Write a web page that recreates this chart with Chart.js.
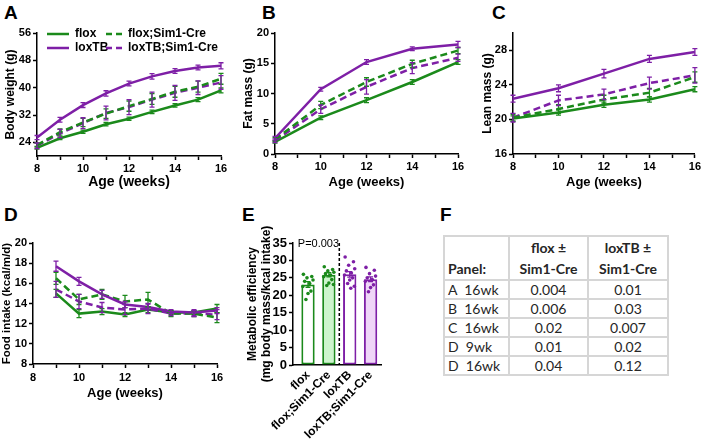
<!DOCTYPE html>
<html lang="en">
<head>
<meta charset="UTF-8">
<title>Body weight, fat, lean mass, food intake</title>
<script src="https://cdn.jsdelivr.net/npm/chart.js"></script>
<style>
  body { margin: 0; background: #fff; width: 703px; height: 443px; position: relative; overflow: hidden;
         font-family: Arial, "Liberation Sans", sans-serif; }
  canvas { position: absolute; }
  .lbl { position: absolute; font: bold 19px Arial, "Liberation Sans", sans-serif; line-height: 19px; color: #000; }
  #tblF { position: absolute; left: 443px; top: 235px; width: 224px; table-layout: fixed; border-collapse: collapse;
          font-family: Lato, "Open Sans", sans-serif; font-size: 14px; color: #262626; }
  #tblF td { border: 2px solid #d6d6d6; height: 17px; padding: 0 3px; text-align: center; white-space: nowrap; }
  #tblF td.l { text-align: left; }
  #tblF tr.hd td { height: 38px; vertical-align: bottom; font-weight: bold; line-height: 21px; }
</style>
</head>
<body>

<div class="lbl" style="left:4px;top:3px">A</div>
<div class="lbl" style="left:262px;top:3px">B</div>
<div class="lbl" style="left:492px;top:3px">C</div>
<div class="lbl" style="left:4px;top:205px">D</div>
<div class="lbl" style="left:242px;top:205px">E</div>
<div class="lbl" style="left:440px;top:205px">F</div>

<canvas id="cA" width="232" height="178" style="left:0px;top:22px"></canvas>
<canvas id="cB" width="235" height="178" style="left:232px;top:22px"></canvas>
<canvas id="cC" width="236" height="178" style="left:467px;top:22px"></canvas>
<canvas id="cD" width="232" height="190" style="left:0px;top:225px"></canvas>
<canvas id="cE" width="150" height="218" style="left:235px;top:225px"></canvas>
<table id="tblF"></table>

<script>
// ---- data ----
const groups = ['flox', 'flox;Sim1-Cre', 'loxTB', 'loxTB;Sim1-Cre'];

// A: body weight (g)
const weeksA = [8, 9, 10, 11, 12, 13, 14, 15, 16];
const bwFlox       = [22.4, 25.2, 27.1, 29.3, 30.9, 32.9, 34.8, 36.5, 39.2];
const bwFloxSim    = [23.2, 27.0, 29.8, 32.4, 34.6, 36.7, 38.8, 40.3, 42.6];
const bwLoxTB      = [25.4, 30.6, 34.9, 38.3, 41.2, 43.3, 44.9, 45.9, 46.4];
const bwLoxTBSim   = [23.0, 26.6, 29.6, 32.6, 34.3, 36.5, 38.5, 40.0, 41.5];
const bwFloxErr     = [0.4, 0.4, 0.5, 0.5, 0.5, 0.5, 0.5, 0.6, 0.7];
const bwFloxSimErr  = [0.6, 0.9, 1.2, 1.4, 1.5, 1.6, 1.6, 1.6, 1.6];
const bwLoxTBErr    = [0.6, 0.7, 0.7, 0.8, 0.7, 0.8, 0.7, 0.7, 0.9];
const bwLoxTBSimErr = [0.8, 1.2, 1.6, 2.0, 2.2, 2.2, 2.2, 2.0, 2.0];

// B: fat mass (g), C: lean mass (g)
const weeksBC = [8, 10, 12, 14, 16];
const fatFlox     = [2.0, 6.0, 8.9, 11.9, 15.2];
const fatFloxSim  = [2.4, 8.1, 11.9, 14.9, 17.1];
const fatLoxTB    = [2.6, 10.7, 15.2, 17.4, 18.1];
const fatLoxTBSim = [2.2, 7.4, 11.1, 14.2, 15.9];
const fatFloxErr     = [0.2, 0.3, 0.4, 0.4, 0.4];
const fatFloxSimErr  = [0.3, 0.6, 0.7, 0.6, 0.5];
const fatLoxTBErr    = [0.3, 0.3, 0.4, 0.3, 0.5];
const fatLoxTBSimErr = [0.3, 0.7, 1.2, 0.9, 0.6];

const leanFlox     = [20.1, 20.8, 21.7, 22.3, 23.5];
const leanFloxSim  = [20.2, 21.2, 22.3, 23.1, 24.9];
const leanLoxTB    = [22.4, 23.6, 25.3, 27.0, 27.8];
const leanLoxTBSim = [20.2, 22.2, 22.9, 24.2, 25.1];
const leanFloxErr     = [0.3, 0.3, 0.3, 0.3, 0.3];
const leanFloxSimErr  = [0.4, 0.5, 0.5, 0.5, 0.6];
const leanLoxTBErr    = [0.4, 0.4, 0.5, 0.4, 0.4];
const leanLoxTBSimErr = [0.5, 0.6, 0.6, 0.7, 0.9];

// D: food intake (kcal/m/d)
const weeksD = [9, 10, 11, 12, 13, 14, 15, 16];
const fiFlox     = [15.0, 13.0, 13.2, 12.9, 13.4, 13.1, 13.1, 13.5];
const fiFloxSim  = [16.5, 14.4, 14.9, 14.2, 14.4, 13.0, 13.0, 12.6];
const fiLoxTB    = [17.7, 16.2, 14.9, 13.9, 13.65, 13.2, 13.1, 13.3];
const fiLoxTBSim = [15.4, 14.2, 13.6, 13.4, 13.5, 13.0, 13.0, 12.9];
const fiFloxErr     = [0.4, 0.4, 0.3, 0.2, 0.3, 0.2, 0.2, 0.4];
const fiFloxSimErr  = [0.6, 0.5, 0.5, 0.6, 0.7, 0.3, 0.3, 0.5];
const fiLoxTBErr    = [0.5, 0.4, 0.4, 0.3, 0.3, 0.2, 0.3, 0.3];
const fiLoxTBSimErr = [0.8, 0.7, 0.5, 0.5, 0.5, 0.2, 0.3, 0.5];

// E: metabolic efficiency
const meMean = [23.1, 25.9, 26.0, 24.6];
const meSem  = [0.8, 0.6, 0.8, 0.7];
const meTicks = [0, 5, 10, 15, 20, 25, 30, 35];
const meDotsFlox     = [26.0, 25.4, 25.0, 24.4, 24.0, 23.4, 22.5, 21.2, 20.5, 18.8];
const meDotsFloxSim  = [28.2, 27.4, 27.0, 26.6, 26.2, 25.8, 25.3, 24.5, 23.5, 22.8, 23.1];
const meDotsLoxTB    = [31.0, 29.6, 28.6, 27.6, 27.0, 26.4, 25.8, 25.0, 24.4, 23.4, 22.6, 22.0];
const meDotsLoxTBSim = [28.0, 27.2, 26.2, 25.5, 25.0, 24.5, 24.0, 23.0, 22.2, 21.0];

// F: p values
const fPanels = ['A\u00a0 16wk', 'B\u00a0 16wk', 'C\u00a0 16wk', 'D\u00a0 9wk', 'D\u00a0 16wk'];
const fFlox   = ['0.004', '0.006', '0.02', '0.01', '0.04'];
const fLoxTB  = ['0.01', '0.03', '0.007', '0.02', '0.12'];

// ---- styles ----
const green = '#1b8a1b', purple = '#7e1fa6';
const FAM = 'Arial, "Liberation Sans", sans-serif';

// error bars drawn through the y scale
const errorBars = {
  id: 'errorBars',
  afterDatasetsDraw(chart) {
    const ctx = chart.ctx, ys = chart.scales.y;
    chart.data.datasets.forEach((ds, i) => {
      if (!ds.err) return;
      const meta = chart.getDatasetMeta(i);
      ctx.save();
      ctx.lineWidth = 1.3;
      ctx.setLineDash([]);
      meta.data.forEach((el, j) => {
        const v = ds.data[j].y;
        const c = ds.errColor || ds.borderColor;
        ctx.strokeStyle = Array.isArray(c) ? c[j] : c;
        const t = ys.getPixelForValue(v + ds.err[j]);
        const b = ys.getPixelForValue(v - ds.err[j]);
        ctx.beginPath();
        ctx.moveTo(el.x, t); ctx.lineTo(el.x, b);
        ctx.moveTo(el.x - 2.5, t); ctx.lineTo(el.x + 2.5, t);
        ctx.moveTo(el.x - 2.5, b); ctx.lineTo(el.x + 2.5, b);
        ctx.stroke();
      });
      ctx.restore();
    });
  }
};

function series(label, x, y, err, color, dashed, order) {
  return {
    label: label,
    data: x.map((w, i) => ({ x: w, y: y[i] })),
    err: err,
    borderColor: color,
    borderWidth: 2.5,
    borderDash: dashed ? [7, 4] : [],
    pointRadius: 0,
    tension: 0,
    fill: false,
    order: order
  };
}

function lineChart(id, o) {
  return new Chart(document.getElementById(id), {
    type: 'line',
    data: { datasets: o.datasets },
    options: {
      responsive: false,
      animation: false,
      layout: { padding: o.pad },
      plugins: { legend: { display: false }, tooltip: { enabled: false } },
      scales: {
        x: {
          type: 'linear', min: o.xmin, max: 16,
          afterFit: s => { s.height = o.xh; },
          afterBuildTicks: s => { s.ticks = o.xticks.map(v => ({ value: v })); },
          ticks: { autoSkip: false, maxRotation: 0, padding: o.xtp, color: '#000',
                   font: { family: FAM, size: 11, weight: 'bold' },
                   callback: v => (v % 2 === 0 ? v : '') },
          grid: { drawOnChartArea: false, color: '#000', tickLength: 4, tickWidth: 1.5 },
          border: { color: '#000', width: 1.5 },
          title: { display: true, text: 'Age (weeks)', color: '#000',
                   font: { family: FAM, size: o.xtSize, weight: 'bold' }, padding: { top: 0, bottom: o.xtPad } }
        },
        y: {
          min: o.ymin, max: o.ymax,
          afterFit: s => { s.width = o.yw; },
          afterBuildTicks: s => { s.ticks = o.yticks.map(v => ({ value: v })); },
          ticks: { autoSkip: false, padding: 2, color: '#000', font: { family: FAM, size: 11, weight: 'bold' } },
          grid: { drawOnChartArea: false, color: '#000', tickLength: 4, tickWidth: 1.5 },
          border: { color: '#000', width: 1.5 },
          title: { display: true, text: o.ytitle, color: '#000',
                   font: { family: FAM, size: o.ytSize, weight: 'bold' }, padding: { top: o.ytPad, bottom: 0 } }
        }
      }
    },
    plugins: [errorBars].concat(o.plugins || [])
  });
}

// legend inside panel A
const legendA = {
  id: 'legendA',
  afterDraw(chart) {
    const ctx = chart.ctx, a = chart.chartArea;
    const items = [
      { ds: 0, x: a.left + 10, y: a.top + 1, w: 22 },
      { ds: 1, x: a.left + 69, y: a.top + 1, w: 16 },
      { ds: 2, x: a.left + 10, y: a.top + 15, w: 22 },
      { ds: 3, x: a.left + 69, y: a.top + 15, w: 16 }
    ];
    ctx.save();
    ctx.font = 'bold 12px ' + FAM;
    ctx.textBaseline = 'middle';
    ctx.fillStyle = '#000';
    items.forEach(it => {
      const ds = chart.data.datasets[it.ds];
      ctx.strokeStyle = ds.borderColor;
      ctx.lineWidth = 2.5;
      ctx.setLineDash(ds.borderDash.length ? [6, 4] : []);
      ctx.beginPath();
      ctx.moveTo(it.x, it.y); ctx.lineTo(it.x + it.w, it.y);
      ctx.stroke();
      ctx.fillText(ds.label, it.x + it.w + 6, it.y);
    });
    ctx.restore();
  }
};

function fourSeries(x, f, fs, l, ls, fe, fse, le, lse) {
  return [
    series(groups[0], x, f, fe, green, false, 3),
    series(groups[1], x, fs, fse, green, true, 1),
    series(groups[2], x, l, le, purple, false, 0),
    series(groups[3], x, ls, lse, purple, true, 2)
  ];
}

const wk1 = [8, 9, 10, 11, 12, 13, 14, 15, 16];

lineChart('cA', {
  datasets: fourSeries(weeksA, bwFlox, bwFloxSim, bwLoxTB, bwLoxTBSim, bwFloxErr, bwFloxSimErr, bwLoxTBErr, bwLoxTBSimErr),
  pad: { left: 0, top: 11, right: 11, bottom: 0 }, yw: 37, xh: 44, xtp: 2, xtPad: 9, xtSize: 14,
  xmin: 8, xticks: wk1, ymin: 20, ymax: 56, yticks: [24, 32, 40, 48, 56],
  ytitle: 'Body weight (g)', ytSize: 12, ytPad: 3, plugins: [legendA]
});

lineChart('cB', {
  datasets: fourSeries(weeksBC, fatFlox, fatFloxSim, fatLoxTB, fatLoxTBSim, fatFloxErr, fatFloxSimErr, fatLoxTBErr, fatLoxTBSimErr),
  pad: { left: 0, top: 11, right: 9, bottom: 0 }, yw: 43, xh: 46, xtp: 2, xtPad: 10, xtSize: 13,
  xmin: 8, xticks: wk1, ymin: 0, ymax: 20, yticks: [0, 5, 10, 15, 20],
  ytitle: 'Fat mass (g)', ytSize: 12, ytPad: 9
});

lineChart('cC', {
  datasets: fourSeries(weeksBC, leanFlox, leanFloxSim, leanLoxTB, leanLoxTBSim, leanFloxErr, leanFloxSimErr, leanLoxTBErr, leanLoxTBSimErr),
  pad: { left: 0, top: 11, right: 6, bottom: 0 }, yw: 46, xh: 46, xtp: 2, xtPad: 10, xtSize: 13,
  xmin: 8, xticks: wk1, ymin: 16, ymax: 30, yticks: [16, 20, 24, 28],
  ytitle: 'Lean mass (g)', ytSize: 12, ytPad: 13
});

lineChart('cD', {
  datasets: fourSeries(weeksD, fiFlox, fiFloxSim, fiLoxTB, fiLoxTBSim, fiFloxErr, fiFloxSimErr, fiLoxTBErr, fiLoxTBSimErr),
  pad: { left: 0, top: 18, right: 15, bottom: 0 }, yw: 33, xh: 51, xtp: 3, xtPad: 14, xtSize: 13,
  xmin: 8, xticks: wk1, ymin: 8, ymax: 20, yticks: [8, 10, 12, 14, 16, 18, 20],
  ytitle: 'Food intake (kcal/m/d)', ytSize: 11.5, ytPad: 0
});

// ---- E: bars + individual animals ----
const jit = [-0.22, 0.18, -0.05, 0.24, -0.16, 0.08, -0.25, 0.14, 0.0, -0.1, 0.22, 0.05];
const dotSets = [meDotsFlox, meDotsFloxSim, meDotsLoxTB, meDotsLoxTBSim];
const edgeE = [green, green, purple, purple];
const fillE = ['#ffffff', '#ccf5cc', '#ffffff', '#efd6f7'];

const dividerE = {
  id: 'dividerE',
  afterDraw(chart) {
    const ctx = chart.ctx, a = chart.chartArea, xs = chart.scales.x;
    const x = xs.getPixelForValue(1.5);
    ctx.save();
    ctx.strokeStyle = '#000';
    ctx.lineWidth = 1.5;
    ctx.setLineDash([3, 2]);
    ctx.beginPath();
    ctx.moveTo(x, a.top); ctx.lineTo(x, a.bottom);
    ctx.stroke();
    ctx.font = '11px ' + FAM;
    ctx.fillStyle = '#000';
    ctx.textAlign = 'center';
    ctx.textBaseline = 'middle';
    ctx.fillText('P=0.003', xs.getPixelForValue(0.5), a.top + 1);
    ctx.restore();
  }
};

new Chart(document.getElementById('cE'), {
  type: 'bar',
  data: {
    datasets: [{
      type: 'bar',
      data: meMean.map((v, i) => ({ x: i, y: v })),
      err: meSem,
      backgroundColor: fillE,
      borderColor: edgeE,
      borderWidth: 2,
      borderSkipped: false,
      barPercentage: 0.64,
      categoryPercentage: 1,
      order: 2
    }].concat(dotSets.map((d, i) => ({
      type: 'scatter',
      data: d.map((v, k) => ({ x: i + jit[k], y: v })),
      pointRadius: 1.8,
      pointBackgroundColor: edgeE[i],
      pointBorderWidth: 0,
      order: 1
    })))
  },
  options: {
    responsive: false,
    animation: false,
    layout: { padding: { left: 0, top: 18, right: 2, bottom: 0 } },
    plugins: { legend: { display: false }, tooltip: { enabled: false } },
    scales: {
      x: {
        type: 'linear', min: -0.72, max: 3.5, offset: false,
        afterFit: s => { s.height = 78; },
        afterBuildTicks: s => { s.ticks = [0, 1, 2, 3].map(v => ({ value: v })); },
        ticks: { autoSkip: false, minRotation: 45, maxRotation: 45, padding: 3, color: '#000',
                 font: { family: FAM, size: 12, weight: 'bold' }, callback: v => groups[v] },
        grid: { drawOnChartArea: false, drawTicks: false },
        border: { color: '#000', width: 1.5 }
      },
      y: {
        min: 0, max: 35,
        afterFit: s => { s.width = 58; },
        afterBuildTicks: s => { s.ticks = meTicks.map(v => ({ value: v })); },
        ticks: { autoSkip: false, padding: 2, color: '#000', font: { family: FAM, size: 13, weight: 'bold' } },
        grid: { drawOnChartArea: false, color: '#000', tickLength: 4, tickWidth: 1.5 },
        border: { color: '#000', width: 1.5 },
        title: { display: true, text: ['Metabolic efficiency', '(mg body mass/kcal intake)'], color: '#000',
                 font: { family: FAM, size: 12, weight: 'bold' }, padding: { top: 10, bottom: 0 } }
      }
    }
  },
  plugins: [errorBars, dividerE]
});

// ---- F: table ----
const tbl = document.getElementById('tblF');
tbl.innerHTML = '<colgroup><col style="width:65px"><col style="width:79px"><col style="width:80px"></colgroup>' +
  '<tr class="hd"><td class="l">Panel:</td><td>flox \u00b1<br>Sim1-Cre</td><td>loxTB \u00b1<br>Sim1-Cre</td></tr>' +
  fPanels.map((p, i) => '<tr><td class="l">' + p + '</td><td>' + fFlox[i] + '</td><td>' + fLoxTB[i] + '</td></tr>').join('');
</script>
</body>
</html>
